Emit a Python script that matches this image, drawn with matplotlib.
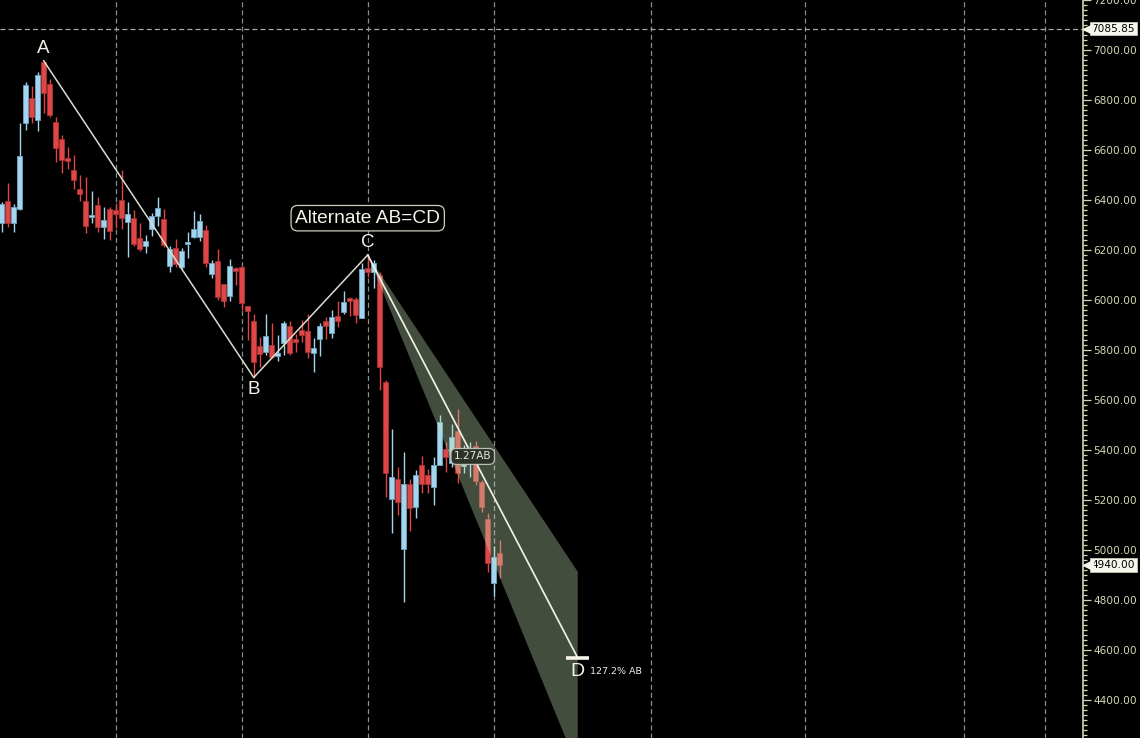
import matplotlib
matplotlib.use("Agg")
import matplotlib.pyplot as plt
from matplotlib.patches import Polygon
from matplotlib.ticker import MultipleLocator, FormatStrFormatter
import numpy as np

# daily OHLC, one row per session
opens = [6309, 6396, 6309, 6364, 6707, 6808, 6720, 6952, 6864, 6712,
         6644, 6568, 6520, 6444, 6396, 6333, 6380, 6293, 6364, 6360,
         6400, 6313, 6328, 6247, 6217, 6284, 6337, 6324, 6137, 6207,
         6133, 6223, 6252, 6252, 6280, 6105, 6156, 6064, 6017, 6128,
         6131, 5976, 5916, 5816, 5793, 5820, 5776, 5827, 5896, 5843,
         5880, 5876, 5787, 5843, 5916, 5869, 5936, 5953, 6009, 6004,
         5929, 6127, 6113, 6100, 5671, 5203, 5283, 5003, 5263, 5171,
         5340, 5299, 5251, 5339, 5403, 5347, 5476, 5336, 5387, 5416,
         5272, 5123, 4869, 4987]
highs = [6393, 6467, 6384, 6707, 6873, 6856, 6913, 6957, 6883, 6731,
         6660, 6611, 6580, 6500, 6492, 6436, 6412, 6372, 6372, 6387,
         6520, 6392, 6360, 6308, 6260, 6349, 6412, 6364, 6216, 6244,
         6207, 6272, 6356, 6344, 6300, 6160, 6204, 6064, 6163, 6131,
         6139, 5976, 5944, 5853, 5944, 5907, 5860, 5916, 5916, 5863,
         5920, 5944, 5847, 5907, 5931, 5960, 5996, 6036, 6013, 6013,
         6149, 6180, 6160, 6113, 5680, 5483, 5331, 5393, 5283, 5320,
         5376, 5325, 5371, 5540, 5433, 5503, 5563, 5420, 5431, 5436,
         5280, 5147, 5016, 5040]
lows = [6273, 6293, 6273, 6360, 6680, 6707, 6677, 6747, 6731, 6553,
        6509, 6523, 6443, 6395, 6267, 6309, 6273, 6245, 6241, 6287,
        6284, 6173, 6217, 6196, 6189, 6257, 6296, 6213, 6113, 6132,
        6123, 6169, 6249, 6237, 6132, 6087, 6000, 5973, 5997, 6060,
        5960, 5840, 5690, 5733, 5780, 5767, 5757, 5780, 5780, 5793,
        5833, 5767, 5713, 5776, 5844, 5849, 5891, 5944, 5936, 5909,
        5929, 6093, 6047, 5640, 5213, 5069, 5140, 4793, 5077, 5127,
        5227, 5229, 5180, 5339, 5313, 5333, 5269, 5307, 5293, 5259,
        5153, 4913, 4816, 4887]
closes = [6384, 6307, 6371, 6576, 6860, 6733, 6900, 6829, 6740, 6609,
          6561, 6557, 6481, 6425, 6297, 6340, 6291, 6320, 6277, 6345,
          6329, 6344, 6225, 6205, 6236, 6336, 6368, 6220, 6204, 6143,
          6196, 6232, 6283, 6315, 6147, 6147, 6013, 5997, 6136, 6115,
          5987, 5957, 5753, 5783, 5856, 5773, 5787, 5907, 5789, 5833,
          5860, 5793, 5809, 5896, 5897, 5931, 5917, 5992, 5995, 5940,
          6124, 6113, 6149, 5733, 5307, 5291, 5193, 5264, 5167, 5299,
          5263, 5263, 5339, 5511, 5371, 5451, 5307, 5347, 5400, 5277,
          5173, 4949, 4971, 4940]

# swing points A, B, C (bar index, price)
swing_labels = ["A", "B", "C"]
swing_bars = [7, 42, 61]
swing_prices = [6957, 5690, 6180]
d_bar = 96
cd_ratio = 1.272
fan_ratios = [1.0, 1.618]

crosshair_price = 7085.85
month_lines = [19, 40, 61, 82, 108.2, 133.9, 160.4, 173.9]

BG = "black"
UP_FACE, UP_EDGE = "#a3d6ee", "#6fa6c4"
DN_FACE, DN_EDGE = "#e04646", "#a83232"
AXIS_COL = "#d6d6b4"

fig = plt.figure(figsize=(11.4, 7.38), dpi=100, facecolor=BG)
ax = fig.add_axes([0, 0, 1083 / 1140, 1])
ax.set_facecolor(BG)

idx = np.arange(len(closes))
o = np.array(opens, float)
c = np.array(closes, float)
up = c >= o

# month separators + crosshair
for xv in month_lines:
    ax.axvline(xv, color="#8c8c8c", lw=0.9, dashes=(4, 2.5), zorder=0)
ax.axhline(crosshair_price, color="#a8a8a8", lw=0.9, dashes=(4, 2.5), zorder=0)

# candles
ax.vlines(idx[up], np.array(lows)[up], np.array(highs)[up], color=UP_FACE, lw=1, zorder=2)
ax.vlines(idx[~up], np.array(lows)[~up], np.array(highs)[~up], color=DN_FACE, lw=1, zorder=2)
body_lo = np.minimum(o, c)
body_h = np.maximum(np.abs(c - o), 6)
ax.bar(idx[up], body_h[up], bottom=body_lo[up], width=0.78,
       color=UP_FACE, edgecolor=UP_EDGE, lw=0.6, zorder=3)
ax.bar(idx[~up], body_h[~up], bottom=body_lo[~up], width=0.78,
       color=DN_FACE, edgecolor=DN_EDGE, lw=0.6, zorder=3)

# AB=CD projection
a_price, b_price, c_price = swing_prices
c_bar = swing_bars[2]
ab = a_price - b_price
d_price = c_price - cd_ratio * ab
fan = Polygon([[c_bar, c_price],
               [d_bar, c_price - fan_ratios[0] * ab],
               [d_bar, c_price - fan_ratios[1] * ab]],
              closed=True, facecolor="#c4e2b4", alpha=0.34, edgecolor="none", zorder=4)
ax.add_patch(fan)

ax.plot(swing_bars, swing_prices, color="#dcdcd0", lw=1.1, zorder=5)
ax.plot([c_bar, d_bar], [c_price, d_price], color="#f0f0e4", lw=1.25, zorder=5)
ax.plot([d_bar - 1.95, d_bar + 1.95], [d_price, d_price], color="#f4f4e8", lw=2.6,
        solid_capstyle="butt", zorder=5)

lbl_font = dict(family=["Liberation Sans", "DejaVu Sans"], color="#f4f4ea")
offsets = {"A": (0, 9), "B": (0, -9), "C": (0, 9)}
for name, bx, py in zip(swing_labels, swing_bars, swing_prices):
    ax.annotate(name, (bx, py), xytext=offsets[name], textcoords="offset points",
                ha="center", va="center", fontsize=13.5, zorder=6, **lbl_font)
ax.annotate("D", (d_bar, d_price), xytext=(0, -9.5), textcoords="offset points",
            ha="center", va="center", fontsize=14, zorder=6, **lbl_font)
ax.annotate("127.2% AB", (d_bar, d_price), xytext=(9, -9.5), textcoords="offset points",
            ha="left", va="center", fontsize=6.8, zorder=6,
            family="DejaVu Sans", color="#eeeee4")

ax.annotate("Alternate AB=CD", (c_bar, c_price), xytext=(0, 26.5), textcoords="offset points",
            ha="center", va="center", fontsize=13.8, zorder=7, **lbl_font,
            bbox=dict(boxstyle="round,pad=0.22,rounding_size=0.35",
                      facecolor="black", edgecolor="#cfcfc0", lw=0.9))

ax.annotate("1.27AB", ((c_bar + d_bar) / 2, (c_price + d_price) / 2), ha="center", va="center",
            fontsize=7.6, zorder=7, family="DejaVu Sans", color="#e6e6dc",
            bbox=dict(boxstyle="round,pad=0.28,rounding_size=0.5",
                      facecolor="#2c3229", edgecolor="#bcbcb0", lw=0.9))

# price axis on the right
ax.set_xlim(-0.28, 180.2)
ax.set_ylim(4248, 7200)
ax.yaxis.tick_right()
ax.yaxis.set_major_locator(MultipleLocator(200))
ax.yaxis.set_minor_locator(MultipleLocator(20))
ax.yaxis.set_major_formatter(FormatStrFormatter("%.2f"))
ax.tick_params(axis="y", which="major", length=5.5, width=0.9, color=AXIS_COL,
               labelcolor=AXIS_COL, labelsize=7.6, pad=2)
ax.tick_params(axis="y", which="minor", length=3, width=0.9, color=AXIS_COL)
ax.set_xticks([])
for side in ["top", "bottom", "left"]:
    ax.spines[side].set_visible(False)
ax.spines["right"].set_color(AXIS_COL)
ax.spines["right"].set_linewidth(1.2)

# price tags on the axis
ytr = ax.get_yaxis_transform()
for val in [crosshair_price, closes[-1]]:
    ax.text(1.0078, val, "%.2f" % val, transform=ytr, ha="left", va="center",
            fontsize=7.6, color="black", family="DejaVu Sans", zorder=10, clip_on=False,
            bbox=dict(boxstyle="square,pad=0.18", facecolor="#f6f6ee", edgecolor="#c8c8b4", lw=0.6))
    ax.plot([1.0048], [val], marker="<", ms=7, color="#f6f6ee", transform=ytr,
            clip_on=False, zorder=11)

fig.savefig("out.png", dpi=100, facecolor=BG)
